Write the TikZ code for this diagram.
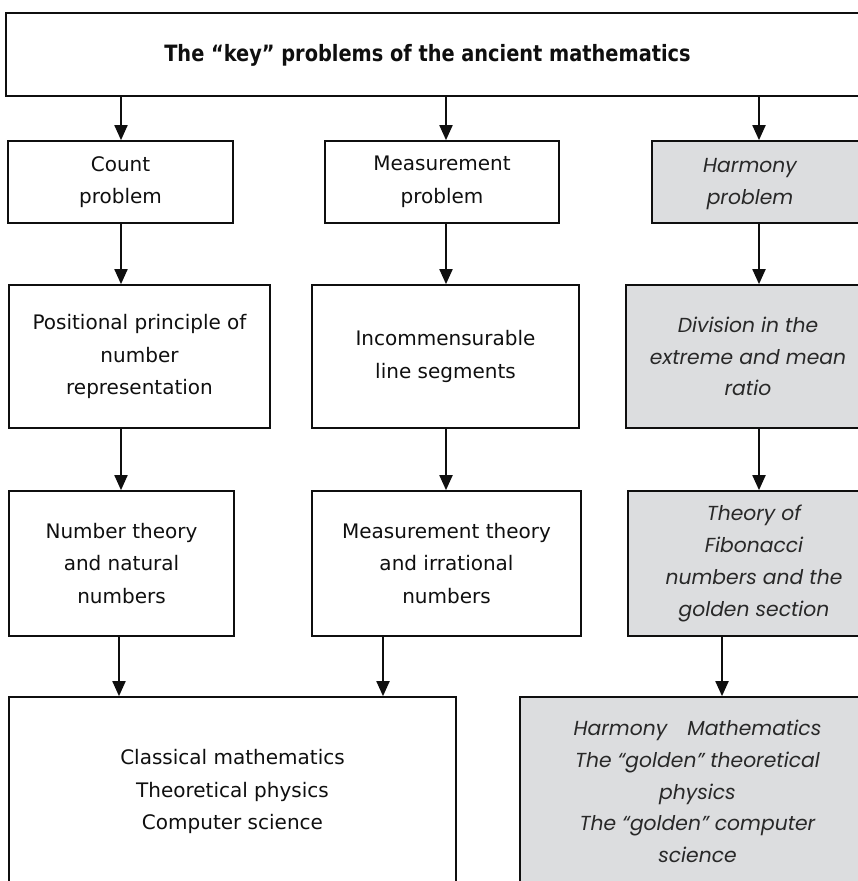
\documentclass[tikz,border=0pt]{standalone}
\usepackage{fontspec}
\setmainfont{DejaVu Sans}
\newfontfamily\geo{Poppins}
\newfontfamily\titlefont[FakeStretch=0.86]{DejaVu Sans}
\usetikzlibrary{arrows.meta}
\definecolor{boxgray}{RGB}{220,221,223}
\definecolor{ink}{RGB}{15,15,15}
\definecolor{itink}{RGB}{40,40,40}
\newcommand\shiftedtext[2]{\hspace*{-#1}\begin{tabular}{@{}c@{}}#2\end{tabular}}
\begin{document}
\begin{tikzpicture}[x=1pt,y=-1pt,
  box/.style={draw=ink, line width=1.7pt, inner sep=0pt, align=center,
    font=\fontsize{20}{32.5}\selectfont, text=ink},
  gbox/.style={box, fill=boxgray, font=\geo\itshape\fontsize{20.3}{31.7}\selectfont, text=itink},
  arr/.style={draw=ink, line width=1.9pt, -{Triangle[length=15pt,width=13pt]}}]
\useasboundingbox (0,0) rectangle (858,881);
\clip (0,0) rectangle (858,881);
% boxes
\node[box, minimum width=869pt, minimum height=83pt] (top) at (440.5,54.5)
  {\shiftedtext{26pt}{\titlefont\bfseries\fontsize{22.5}{26}\selectfont The “key” problems of the ancient mathematics}};
\node[box, minimum width=225pt, minimum height=82pt] (cnt) at (120.5,182) {Count\\problem};
\node[box, minimum width=234pt, minimum height=82pt] (meas) at (442,182) {Measurement\\problem};
\node[gbox, minimum width=218pt, minimum height=82pt] (harm) at (761,182)
  {\shiftedtext{22pt}{\geo\itshape\fontsize{20.3}{31.7}\selectfont Harmony\\problem}};
\node[box, minimum width=261pt, minimum height=143pt] (pos) at (139.5,356.5)
  {Positional principle of\\number\\representation};
\node[box, minimum width=267pt, minimum height=143pt] (inc) at (445.5,356.5)
  {Incommensurable\\line segments};
\node[gbox, minimum width=244pt, minimum height=143pt] (div) at (748,356.5)
  {Division in the\\extreme and mean\\ratio};
\node[box, minimum width=225pt, minimum height=145pt] (nt) at (121.5,563.5)
  {Number theory\\and natural\\numbers};
\node[box, minimum width=269pt, minimum height=145pt] (mt) at (446.5,563.5)
  {Measurement theory\\and irrational\\numbers};
\node[gbox, minimum width=252pt, minimum height=145pt] (fib) at (754,563.5)
  {Theory of\\Fibonacci\\numbers and the\\golden section};
\node[box, minimum width=447pt, minimum height=189pt] (cls) at (232.5,791.5)
  {Classical mathematics\\Theoretical physics\\Computer science};
\node[gbox, minimum width=355pt, minimum height=189pt] (hm) at (697.5,791.5)
  {Harmony\hspace{14pt} Mathematics\\The “golden” theoretical\\physics\\The “golden” computer\\science};
% arrow columns
\coordinate (c1) at (121,0);
\coordinate (c2) at (446,0);
\coordinate (c3) at (759,0);
\coordinate (c4) at (119,0);
\coordinate (c5) at (383,0);
\coordinate (c6) at (722,0);
\draw[arr] (top.south -| c1) -- (cnt.north -| c1);
\draw[arr] (top.south -| c2) -- (meas.north -| c2);
\draw[arr] (top.south -| c3) -- (harm.north -| c3);
\draw[arr] (cnt.south -| c1) -- (pos.north -| c1);
\draw[arr] (meas.south -| c2) -- (inc.north -| c2);
\draw[arr] (harm.south -| c3) -- (div.north -| c3);
\draw[arr] (pos.south -| c1) -- (nt.north -| c1);
\draw[arr] (inc.south -| c2) -- (mt.north -| c2);
\draw[arr] (div.south -| c3) -- (fib.north -| c3);
\draw[arr] (nt.south -| c4) -- (cls.north -| c4);
\draw[arr] (mt.south -| c5) -- (cls.north -| c5);
\draw[arr] (fib.south -| c6) -- (hm.north -| c6);
\end{tikzpicture}
\end{document}
